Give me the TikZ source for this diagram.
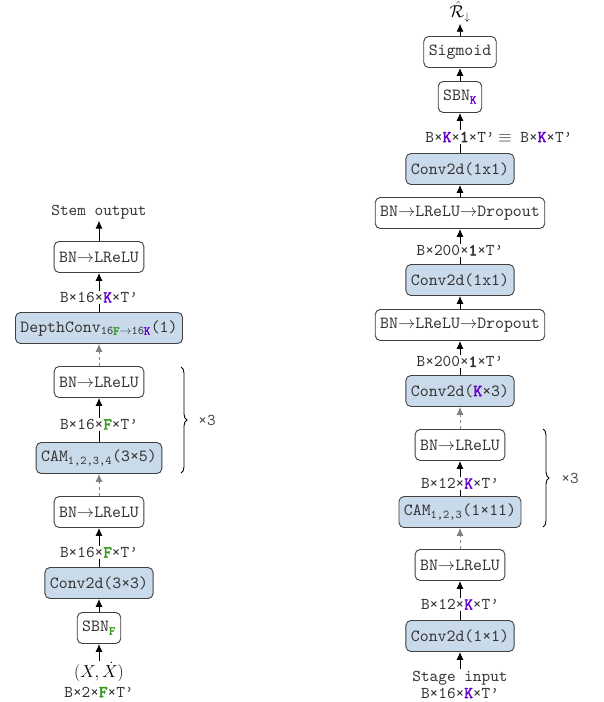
\documentclass[tikz,border=0pt]{standalone}
\usepackage{fontspec}
\setmonofont{lmmono10-regular.otf}[BoldFont=lmmono10-regular.otf, BoldFeatures={FakeBold=2.5}]
\usetikzlibrary{positioning, arrows.meta, decorations.pathreplacing}

\definecolor{convblue}{HTML}{C9DAEA}
\definecolor{kpurple}{HTML}{6600CC}
\definecolor{fgreen}{HTML}{33991A}
\newcommand{\Kd}{\textbf{\textcolor{kpurple}{K}}}
\newcommand{\Fd}{\textbf{\textcolor{fgreen}{F}}}
\newcommand{\rarr}{$\rightarrow$}

\begin{document}
\begin{tikzpicture}[x=1pt, y=-1pt,
    blk/.style={rectangle, rounded corners=5pt, draw=black!75, line width=0.9pt, fill=white, text=black!80, minimum height=31pt, inner xsep=5pt, font=\fontsize{17}{20}\selectfont\ttfamily},
    conv/.style={blk, fill=convblue},
    dim/.style={fill=white, inner sep=1.5pt, text=black!80, font=\fontsize{16.5}{19}\selectfont\ttfamily},
    txt/.style={inner sep=1.5pt, text=black!80, font=\fontsize{16.5}{19}\selectfont\ttfamily},
    flow/.style={-{Latex[length=8pt, width=7pt]}, line width=0.9pt},
    skip/.style={flow, color=gray, dashed},
    rep/.style={decorate, decoration={brace, amplitude=6pt}, line width=0.9pt}
]
\useasboundingbox (0,0) rectangle (604,702);

% --- stem (left) ---
\node[txt] (stemout) at (99,212) {Stem output};
\node[blk] (lbn3) at (99,257) {BN\rarr LReLU};
\node[conv] (ldw) at (99,328) {DepthConv\textsubscript{16\Fd\rarr16\Kd}(1)};
\node[blk] (lbn2) at (99,382) {BN\rarr LReLU};
\node[conv] (lcam) at (99,458) {CAM\textsubscript{1,2,3,4}(3×5)};
\node[blk] (lbn1) at (99,512) {BN\rarr LReLU};
\node[conv] (lconv) at (99,583) {Conv2d(3×3)};
\node[blk] (lsbn) at (99,628) {SBN\textsubscript{\Fd}};
\node[inner sep=1pt, font=\fontsize{17.5}{20}\selectfont] (lx) at (99,672) {$(X,\dot{X})$};
\node[txt] (lxdim) at (99,692) {B×2×\Fd×T’};

\draw[flow] (lx) -- (lsbn);
\draw[flow] (lsbn) -- (lconv);
\draw[flow] (lconv) -- node[dim, pos=0.375] {B×16×\Fd×T’} (lbn1);
\draw[skip] (lbn1) -- (lcam);
\draw[flow] (lcam) -- node[dim, pos=0.4] {B×16×\Fd×T’} (lbn2);
\draw[skip] (lbn2) -- (ldw);
\draw[flow] (ldw) -- node[dim, pos=0.375] {B×16×\Kd×T’} (lbn3);
\draw[flow] (lbn3) -- (stemout);

\draw[rep] (181,367) -- (181,473);
\node[txt, text=black!70] (lrep) at (207,420) {×3};

% --- stage (right) ---
\node[inner sep=1pt, font=\fontsize{16}{19}\selectfont] (rout) at (460,12) {$\hat{\mathcal{R}}_{\downarrow}$};
\node[blk] (rsig) at (460,52) {Sigmoid};
\node[blk] (rsbn) at (460,97) {SBN\textsubscript{\Kd}};
\node[conv] (rc3) at (460,169) {Conv2d(1x1)};
\node[blk] (rdrop2) at (460,213) {BN\rarr LReLU\rarr Dropout};
\node[conv] (rc2) at (460,280) {Conv2d(1x1)};
\node[blk] (rdrop1) at (460,325) {BN\rarr LReLU\rarr Dropout};
\node[conv] (rck) at (460,391) {Conv2d(\Kd×3)};
\node[blk] (rbn2) at (460,445) {BN\rarr LReLU};
\node[conv] (rcam) at (460,512) {CAM\textsubscript{1,2,3}(1×11)};
\node[blk] (rbn1) at (460,565) {BN\rarr LReLU};
\node[conv] (rc1) at (460,636) {Conv2d(1×1)};
\node[txt] (rin) at (460,678) {Stage input};
\node[txt] (rindim) at (460,693) {B×16×\Kd×T’};

\draw[flow] (rin) -- (rc1);
\draw[flow] (rc1) -- node[dim, pos=0.4] {B×12×\Kd×T’} (rbn1);
\draw[skip] (rbn1) -- (rcam);
\draw[flow] (rcam) -- node[dim, pos=0.36] {B×12×\Kd×T’} (rbn2);
\draw[skip] (rbn2) -- (rck);
\draw[flow] (rck) -- node[dim, pos=0.39] {B×200×\textbf{1}×T’} (rdrop1);
\draw[flow] (rdrop1) -- (rc2);
\draw[flow] (rc2) -- node[dim, pos=0.39] {B×200×\textbf{1}×T’} (rdrop2);
\draw[flow] (rdrop2) -- (rc3);
\draw[flow] (rc3) -- node[dim, pos=0.4] (rdim) {B×\Kd×\textbf{1}×T’} (rsbn);
\node[txt, anchor=west] (requiv) at (rdim.east) {$\equiv$ B×\Kd×T’};
\draw[flow] (rsbn) -- (rsig);
\draw[flow] (rsig) -- (rout);

\draw[rep] (543,429) -- (543,527);
\node[txt, text=black!70] (rrep) at (570,478) {×3};
\end{tikzpicture}
\end{document}
